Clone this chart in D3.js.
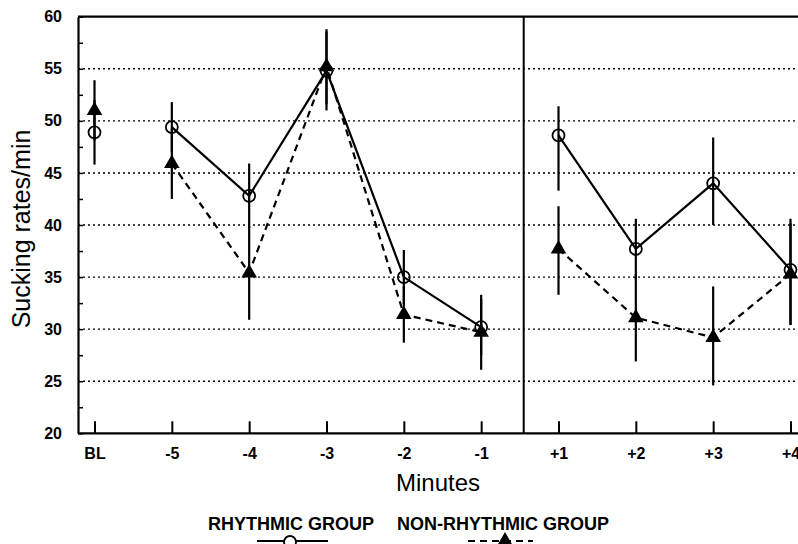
<!DOCTYPE html>
<html>
<head>
<meta charset="utf-8">
<script src="https://cdn.jsdelivr.net/npm/d3@7"></script>
<style>
  html, body { margin: 0; padding: 0; background: #fff; }
  svg { display: block; font-family: "Liberation Sans", Arial, sans-serif; }
</style>
</head>
<body>
<svg id="chart" width="798" height="544"></svg>
<script>
// ---- data ----
const categories = ["BL", "-5", "-4", "-3", "-2", "-1", "+1", "+2", "+3", "+4"];
const rhythmic     = [48.9, 49.4, 42.8, 54.8, 35.0, 30.2, 48.6, 37.7, 44.0, 35.7];
const rhythmicLow  = [45.8, 47.0, 39.7, 51.0, 32.4, 27.5, 43.3, 34.8, 40.0, 30.4];
const rhythmicHigh = [52.0, 51.8, 45.9, 58.6, 37.6, 32.9, 51.4, 40.6, 48.4, 40.6];
const nonRhythmic     = [51.0, 45.9, 35.4, 55.2, 31.4, 29.7, 37.7, 31.1, 29.2, 35.3];
const nonRhythmicLow  = [48.1, 42.5, 30.9, 51.6, 28.7, 26.1, 33.3, 26.9, 24.6, 30.4];
const nonRhythmicHigh = [53.9, 49.3, 39.9, 58.8, 34.1, 33.3, 41.8, 35.3, 34.1, 40.2];
const connectedRuns = [[1, 5], [6, 9]];   // index ranges joined by lines
const dividerAt = 5.55;                   // between "-1" and "+1"
const yMajorTicks = [20, 25, 30, 35, 40, 45, 50, 55, 60];
const yGridTicks = [25, 30, 35, 40, 45, 50, 55];
const yMinorTicks = [22.5, 27.5, 32.5, 37.5, 42.5, 47.5, 52.5, 57.5];
const legendLabels = ["RHYTHMIC GROUP", "NON-RHYTHMIC GROUP"];

(function () {
// ---- layout ----
const svg = d3.select("#chart");
const pL = 78, pR = 798, pT = 16.7, pB = 433.3;
const x = d3.scaleLinear().domain([0, 9]).range([94.5, 790.5]);
const y = d3.scaleLinear().domain([20, 60]).range([pB, pT]);

// gridlines
svg.append("g").selectAll("line").data(yGridTicks).join("line")
  .attr("x1", pL).attr("x2", pR)
  .attr("y1", d => y(d)).attr("y2", d => y(d))
  .attr("stroke", "#000").attr("stroke-width", 1.4)
  .attr("stroke-dasharray", "2,3");

// top border
svg.append("line").attr("x1", pL).attr("x2", pR)
  .attr("y1", y(60)).attr("y2", y(60))
  .attr("stroke", "#000").attr("stroke-width", 2.2);

// divider
svg.append("line").attr("x1", x(dividerAt)).attr("x2", x(dividerAt))
  .attr("y1", y(60)).attr("y2", y(20))
  .attr("stroke", "#000").attr("stroke-width", 2);

// y axis
const yAxis = svg.append("g").attr("transform", `translate(${pL},0)`)
  .call(d3.axisLeft(y).tickValues(yMajorTicks).tickFormat(d3.format("d"))
    .tickSizeInner(-5).tickSizeOuter(0).tickPadding(16));
yAxis.select(".domain").attr("stroke-width", 2.2);
yAxis.selectAll(".tick line").attr("stroke-width", 1.5);
yAxis.selectAll("text").attr("font-size", 16).attr("font-weight", "bold").attr("fill", "#000");

const yMinor = svg.append("g").attr("transform", `translate(${pL},0)`)
  .call(d3.axisLeft(y).tickValues(yMinorTicks).tickFormat("")
    .tickSizeInner(-5).tickSizeOuter(0));
yMinor.select(".domain").remove();
yMinor.selectAll(".tick line").attr("stroke-width", 1.5);

// x axis
const xAxis = svg.append("g").attr("transform", `translate(0,${pB})`)
  .call(d3.axisBottom(x).tickValues(d3.range(categories.length))
    .tickFormat(i => categories[i]).tickSizeInner(-12).tickSizeOuter(0).tickPadding(14));
xAxis.select(".domain").attr("d", `M${pL},0H${pR}`).attr("stroke-width", 2.2);
xAxis.selectAll(".tick line").attr("stroke-width", 2);
xAxis.selectAll("text").attr("font-size", 16).attr("font-weight", "bold").attr("fill", "#000");

// axis titles
svg.append("text").attr("x", (pL + pR) / 2).attr("y", 491)
  .attr("text-anchor", "middle").attr("font-size", 24).text("Minutes");
svg.append("text").attr("transform", `translate(30,229) rotate(-90)`)
  .attr("text-anchor", "middle").attr("font-size", 25).text("Sucking rates/min");

// lines
const line = d3.line().x(i => x(i));
function drawSeries(values, dash) {
  connectedRuns.forEach(([a, b]) => {
    const idx = d3.range(a, b + 1);
    svg.append("path")
      .attr("d", line.y(i => y(values[i]))(idx))
      .attr("fill", "none").attr("stroke", "#000").attr("stroke-width", 2.2)
      .attr("stroke-dasharray", dash);
  });
}
drawSeries(rhythmic, null);
drawSeries(nonRhythmic, "7,5");

// error bars
function drawErr(lo, hi) {
  svg.append("g").selectAll("line").data(d3.range(categories.length)).join("line")
    .attr("x1", i => x(i)).attr("x2", i => x(i))
    .attr("y1", i => y(lo[i])).attr("y2", i => y(hi[i]))
    .attr("stroke", "#000").attr("stroke-width", 2.2);
}
drawErr(rhythmicLow, rhythmicHigh);
drawErr(nonRhythmicLow, nonRhythmicHigh);

// markers
const tri = d3.symbol().type(d3.symbolTriangle).size(105);
svg.append("g").selectAll("path").data(d3.range(categories.length)).join("path")
  .attr("d", tri).attr("transform", i => `translate(${x(i)},${y(nonRhythmic[i])})`)
  .attr("fill", "#000");
svg.append("g").selectAll("circle").data(d3.range(categories.length)).join("circle")
  .attr("cx", i => x(i)).attr("cy", i => y(rhythmic[i])).attr("r", 6)
  .attr("fill", "none").attr("stroke", "#000").attr("stroke-width", 1.8);

// legend
svg.append("text").attr("x", 208).attr("y", 530).attr("font-size", 18)
  .attr("font-weight", "bold").text(legendLabels[0]);
svg.append("text").attr("x", 397).attr("y", 530).attr("font-size", 18)
  .attr("font-weight", "bold").text(legendLabels[1]);
svg.append("line").attr("x1", 257).attr("x2", 328).attr("y1", 541).attr("y2", 541)
  .attr("stroke", "#000").attr("stroke-width", 2.2);
svg.append("circle").attr("cx", 290).attr("cy", 542).attr("r", 6)
  .attr("fill", "#fff").attr("stroke", "#000").attr("stroke-width", 1.8);
svg.append("line").attr("x1", 468).attr("x2", 533).attr("y1", 541).attr("y2", 541)
  .attr("stroke", "#000").attr("stroke-width", 2.2).attr("stroke-dasharray", "7,5");
svg.append("path").attr("d", tri).attr("transform", "translate(505,541)").attr("fill", "#000");
})();
</script>
</body>
</html>
